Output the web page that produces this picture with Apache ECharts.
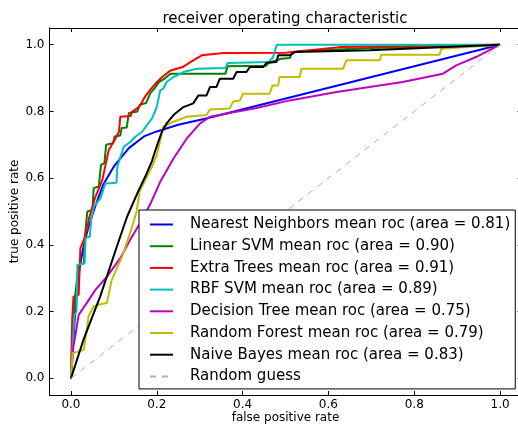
<!DOCTYPE html>
<html>
<head>
<meta charset="utf-8">
<script src="https://cdn.jsdelivr.net/npm/echarts@6/dist/echarts.min.js"></script>
<style>
  html, body { margin: 0; padding: 0; background: #fff; }
  #chart { width: 518px; height: 426px; }
</style>
</head>
<body>
<div id="chart"></div>
<script>
// Mean ROC curves, [false positive rate, true positive rate]
const nearestNeighbors = [[0,0],[0.005,0.1],[0.01,0.2],[0.02,0.33],[0.03,0.40],[0.04,0.45],[0.055,0.51],[0.075,0.58],[0.1,0.635],[0.135,0.69],[0.17,0.725],[0.2,0.74],[0.25,0.76],[0.32,0.78],[0.38,0.80],[1,1]];
const linearSvm = [[0,0],[0.004,0.15],[0.01,0.25],[0.018,0.34],[0.03,0.345],[0.033,0.43],[0.038,0.5],[0.05,0.505],[0.053,0.57],[0.065,0.575],[0.07,0.64],[0.078,0.645],[0.082,0.70],[0.098,0.705],[0.102,0.725],[0.115,0.728],[0.118,0.75],[0.13,0.752],[0.135,0.795],[0.155,0.80],[0.16,0.82],[0.175,0.825],[0.185,0.855],[0.195,0.87],[0.205,0.888],[0.22,0.9],[0.232,0.913],[0.36,0.913],[0.365,0.935],[0.455,0.937],[0.46,0.945],[0.49,0.958],[0.51,0.96],[0.515,0.975],[0.53,0.98],[0.7,0.99],[1,1]];
const extraTrees = [[0,0],[0.003,0.18],[0.006,0.245],[0.018,0.25],[0.022,0.39],[0.03,0.415],[0.038,0.45],[0.042,0.48],[0.057,0.544],[0.073,0.594],[0.088,0.684],[0.1,0.71],[0.112,0.74],[0.115,0.784],[0.139,0.786],[0.142,0.798],[0.16,0.815],[0.172,0.843],[0.185,0.865],[0.197,0.883],[0.21,0.9],[0.231,0.922],[0.26,0.933],[0.285,0.953],[0.305,0.968],[0.355,0.975],[0.5,0.976],[0.63,0.993],[1,1]];
const rbfSvm = [[0,0],[0.008,0.19],[0.013,0.2],[0.015,0.34],[0.032,0.345],[0.034,0.42],[0.044,0.425],[0.047,0.475],[0.053,0.514],[0.069,0.54],[0.08,0.584],[0.106,0.586],[0.108,0.634],[0.123,0.694],[0.139,0.709],[0.15,0.724],[0.166,0.739],[0.177,0.759],[0.189,0.779],[0.2,0.813],[0.208,0.863],[0.215,0.868],[0.223,0.888],[0.239,0.903],[0.262,0.918],[0.293,0.928],[0.36,0.93],[0.365,0.945],[0.46,0.948],[0.47,0.96],[0.48,1.0],[1,1]];
const decisionTree = [[0,0],[0.006,0.10],[0.01,0.126],[0.018,0.19],[0.037,0.226],[0.057,0.265],[0.084,0.305],[0.115,0.36],[0.138,0.415],[0.161,0.465],[0.184,0.52],[0.208,0.589],[0.239,0.659],[0.27,0.719],[0.301,0.764],[0.324,0.784],[0.363,0.794],[0.433,0.81],[0.51,0.833],[0.619,0.858],[0.773,0.888],[0.867,0.913],[0.898,0.938],[0.944,0.963],[1,1]];
const randomForest = [[0,0],[0.004,0.076],[0.018,0.08],[0.03,0.086],[0.041,0.186],[0.053,0.216],[0.068,0.222],[0.084,0.226],[0.095,0.295],[0.119,0.365],[0.138,0.435],[0.153,0.5],[0.16,0.56],[0.177,0.604],[0.189,0.634],[0.2,0.669],[0.204,0.69],[0.215,0.754],[0.239,0.769],[0.27,0.784],[0.316,0.789],[0.324,0.806],[0.37,0.809],[0.378,0.83],[0.394,0.833],[0.401,0.853],[0.463,0.853],[0.47,0.878],[0.483,0.878],[0.486,0.903],[0.533,0.903],[0.537,0.928],[0.634,0.928],[0.642,0.953],[0.72,0.953],[0.723,0.97],[0.859,0.97],[0.863,0.988],[1,1]];
const naiveBayes = [[0,0],[0.029,0.115],[0.068,0.245],[0.107,0.395],[0.131,0.485],[0.158,0.564],[0.173,0.604],[0.189,0.652],[0.197,0.684],[0.205,0.714],[0.212,0.739],[0.223,0.764],[0.239,0.789],[0.262,0.813],[0.285,0.824],[0.297,0.848],[0.316,0.848],[0.324,0.873],[0.339,0.873],[0.347,0.898],[0.378,0.898],[0.386,0.918],[0.409,0.918],[0.417,0.933],[0.448,0.933],[0.456,0.946],[0.479,0.948],[0.483,0.968],[0.51,0.968],[0.522,0.978],[0.696,0.983],[1,1]];
const randomGuess = [[0,0],[1,1]];

const seriesNames = [
  'Nearest Neighbors mean roc (area = 0.81)',
  'Linear SVM mean roc (area = 0.90)',
  'Extra Trees mean roc (area = 0.91)',
  'RBF SVM mean roc (area = 0.89)',
  'Decision Tree mean roc (area = 0.75)',
  'Random Forest mean roc (area = 0.79)',
  'Naive Bayes mean roc (area = 0.83)',
  'Random guess'
];
const seriesData = [nearestNeighbors, linearSvm, extraTrees, rbfSvm, decisionTree, randomForest, naiveBayes, randomGuess];
const seriesColors = ['#0000ff', '#008000', '#ff0000', '#00bfbf', '#bf00bf', '#bfbf00', '#000000', '#b0b0b0'];
const tickValues = [0, 0.2, 0.4, 0.6, 0.8, 1.0];

const FONT = 'DejaVu Sans';

function makeAxis(kind, position, showLabels) {
  return {
    type: 'value',
    position: position,
    min: -0.05,
    max: 1.05,
    splitLine: { show: false },
    axisLine: { show: true, onZero: false, lineStyle: { color: '#000', width: 1 } },
    axisTick: { show: true, inside: true, length: 4, lineStyle: { color: '#000', width: 1 }, customValues: tickValues },
    axisLabel: {
      show: showLabels,
      customValues: tickValues,
      formatter: v => v.toFixed(1),
      color: '#000',
      fontFamily: FONT,
      fontSize: 12,
      margin: kind === 'x' ? 4 : 5
    }
  };
}

const xBottom = makeAxis('x', 'bottom', true);
xBottom.name = 'false positive rate';
xBottom.nameLocation = 'middle';
xBottom.nameGap = 17;
xBottom.nameMoveOverlap = false;
xBottom.nameTextStyle = { color: '#000', fontFamily: FONT, fontSize: 12 };
const xTop = makeAxis('x', 'top', false);
const yLeft = makeAxis('y', 'left', true);
yLeft.name = 'true positive rate';
yLeft.nameLocation = 'middle';
yLeft.nameGap = 29;
yLeft.nameMoveOverlap = false;
yLeft.nameTextStyle = { color: '#000', fontFamily: FONT, fontSize: 12 };
const yRight = makeAxis('y', 'right', false);

const series = seriesData.map((d, i) => ({
  name: seriesNames[i],
  type: 'line',
  data: d,
  xAxisIndex: 0,
  yAxisIndex: 0,
  symbol: 'none',
  smooth: false,
  animation: false,
  color: seriesColors[i],
  lineStyle: i === 7
    ? { color: seriesColors[i], width: 1, type: [6, 6] }
    : { color: seriesColors[i], width: 2 }
}));

const chart = echarts.init(document.getElementById('chart'), null, { renderer: 'canvas' });
chart.setOption({
  animation: false,
  backgroundColor: '#fff',
  title: {
    text: 'receiver operating characteristic',
    left: 285,
    textAlign: 'center',
    top: 12,
    padding: 0,
    textStyle: { color: '#000', fontFamily: FONT, fontSize: 15, fontWeight: 'normal' }
  },
  grid: { left: 49.5, top: 28, width: 472, height: 367, containLabel: false, outerBoundsMode: 'none' },
  xAxis: [xBottom, xTop],
  yAxis: [yLeft, yRight],
  legend: {
    orient: 'vertical',
    left: 139,
    top: 210,
    padding: [7, 5, 5, 10],
    itemWidth: 23,
    itemHeight: 14,
    itemGap: 6.7,
    backgroundColor: '#fff',
    borderColor: '#000',
    borderWidth: 1,
    borderRadius: 0,
    selectedMode: false,
    itemStyle: { opacity: 0 },
    textStyle: { color: '#000', fontFamily: FONT, fontSize: 15, padding: [0, 0, 0, 12] },
    data: seriesNames
  },
  series: series
});
</script>
</body>
</html>
